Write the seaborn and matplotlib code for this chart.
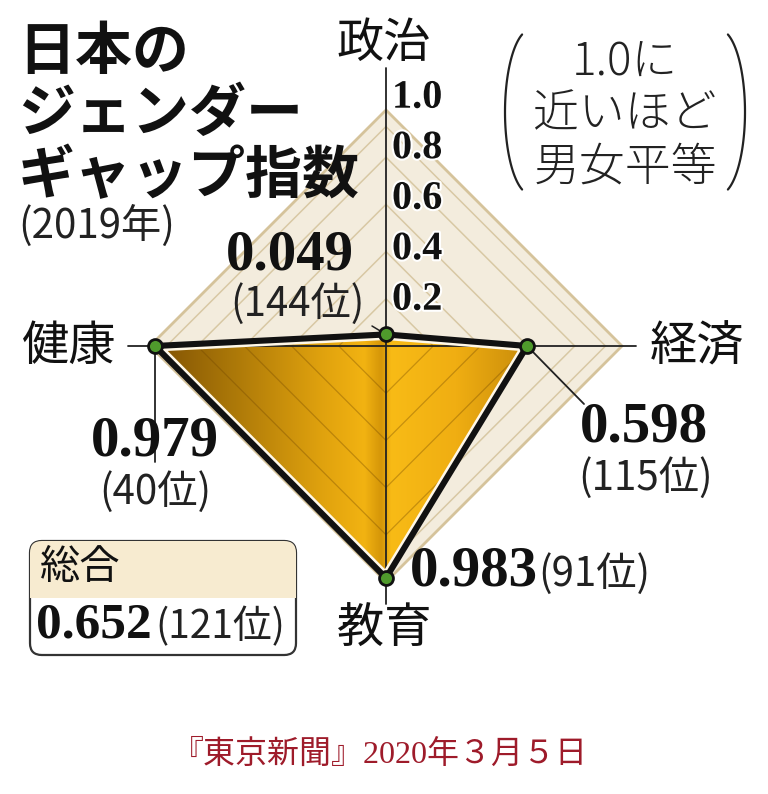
import numpy as np
import pandas as pd
import matplotlib.pyplot as plt
import seaborn as sns
import matplotlib.patheffects as pe
from matplotlib.patches import Polygon, FancyBboxPatch, Rectangle
from matplotlib.colors import LinearSegmentedColormap

# --- data ---
categories = ['政治', '経済', '教育', '健康']
scores = [0.049, 0.598, 0.983, 0.979]
ranks = [144, 115, 91, 40]
angles_deg = [90, 0, 270, 180]
ring_levels = [0.2, 0.4, 0.6, 0.8, 1.0]
ring_labels = ['0.2', '0.4', '0.6', '0.8', '1.0']
overall_label = '総合'
overall_score = 0.652
overall_rank = 121
title_lines = ['日本の', 'ジェンダー', 'ギャップ指数']
year_label = '(2019年)'
note_lines = ['1.0に', '近いほど', '男女平等']
source = '『東京新聞』2020年３月５日'

W, H = 768, 794
CX, CY, R = 386, 346, 236


def px(x, y):
    """pixel position -> radar units"""
    return (x - CX) / R, (CY - y) / R


sns.set_theme(style='white')
JP = ['Noto Sans CJK JP', 'DejaVu Sans']
SERIF = ['Liberation Serif', 'Noto Sans CJK JP']
plt.rcParams['font.family'] = JP

df = pd.DataFrame({'cat': categories, 'score': scores, 'rank': ranks,
                   'angle': np.deg2rad(angles_deg)})
df['x'] = df['score'] * np.cos(df['angle'])
df['y'] = df['score'] * np.sin(df['angle'])
unit = np.column_stack([np.cos(df['angle']), np.sin(df['angle'])])

fig = plt.figure(figsize=(W / 100, H / 100), dpi=100)
ax = fig.add_axes([0, 0, 1, 1])

# background grid diamonds
ax.add_patch(Polygon(unit * 1.0, closed=True, fc='#f3ecdd', ec='#d5c39b', lw=2, zorder=1))
for lv in ring_levels[:-1] + [0.93]:
    ax.add_patch(Polygon(unit * lv, closed=True, fill=False, ec='#d8c8a4', lw=1.1, zorder=1.5))

# gold fill with gradient
pts = df[['x', 'y']].values
shape = Polygon(pts, closed=True, fc='none', ec='none')
ax.add_patch(shape)
gold = LinearSegmentedColormap.from_list('gold', [
    (0.00, '#7e5004'), (0.20, '#a87508'), (0.45, '#e0a20e'), (0.56, '#f2b312'),
    (0.605, '#d49508'), (0.63, '#f8bb16'), (0.80, '#f0ae12'), (1.00, '#c68a0a')])
grad = np.linspace(0, 1, 256).reshape(1, -1)
im = ax.imshow(grad, extent=[-1.0, 0.62, -1.0, 0.1], cmap=gold, aspect='auto',
               interpolation='bicubic', zorder=3)
im.set_clip_path(shape)
for lv in ring_levels:
    ring = Polygon(unit * lv, closed=True, fill=False, ec='#6e4400', lw=0.9, alpha=0.35, zorder=3.5)
    ax.add_patch(ring)
    ring.set_clip_path(shape)

# axis lines
x0, _ = px(128, CY)
x1, _ = px(636, CY)
ax.plot([x0, x1], [0, 0], color='#222222', lw=1.3, zorder=4)
_, ytop = px(CX, 68)
_, ybot = px(CX, 604)
ax.plot([0, 0], [ytop, ybot], color='#222222', lw=1.3, zorder=4)

# white inner edge + black outline
closed = np.vstack([pts, pts[:1]])
inner, = ax.plot(closed[:, 0], closed[:, 1], color='#fff8e8', lw=8, zorder=5,
                 solid_joinstyle='miter')
inner.set_clip_path(shape)
ax.plot(closed[:, 0], closed[:, 1], color='#111111', lw=4.4, zorder=6,
        solid_joinstyle='miter')

# leader lines
hx, hy = df.loc[3, 'x'], df.loc[3, 'y']
ax.plot([hx, hx], [hy, px(0, 462)[1]], color='#222222', lw=1.3, zorder=4)
ex, ey = df.loc[1, 'x'], df.loc[1, 'y']
ax.plot([ex, px(584, 0)[0]], [ey, px(0, 404)[1]], color='#222222', lw=1.3, zorder=4)
ax.plot([df.loc[0, 'x'], px(372, 0)[0]], [df.loc[0, 'y'], px(0, 326)[1]],
        color='#222222', lw=1.1, zorder=4)

sns.scatterplot(data=df, x='x', y='y', s=100, color='#4f9a2c', edgecolor='#111111',
                linewidth=2, zorder=8, ax=ax, legend=False)

# ring tick labels
for lv, lab in zip(ring_levels, ring_labels):
    ax.text(px(392, 0)[0], lv * 1.07 - 0.02, lab, family=SERIF, fontweight='bold',
            fontsize=29, ha='left', va='center', color='#111111', zorder=9,
            path_effects=[pe.withStroke(linewidth=3, foreground='white')])

# category labels
cat_pos = {'政治': (384, 44, 'center'), '経済': (650, 347, 'left'),
           '教育': (384, 630, 'center'), '健康': (116, 347, 'right')}
for c in categories:
    x, y, ha = cat_pos[c]
    ax.text(*px(x, y), c, fontsize=34, ha=ha, va='center', color='#111111', zorder=9)

# value labels
val_pos = {'政治': ((290, 256, 'center'), (297, 304, 'center')),
           '経済': ((580, 427, 'left'), (578, 478, 'left')),
           '健康': ((155, 442, 'center'), (155, 492, 'center'))}
for _, row in df.iterrows():
    if row['cat'] in val_pos:
        (vx, vy, vha), (rx, ry, rha) = val_pos[row['cat']]
        ax.text(*px(vx, vy), f"{row['score']:.3f}", family=SERIF, fontweight='bold',
                fontsize=41, ha=vha, va='center', color='#111111', zorder=9)
        ax.text(*px(rx, ry), f"({row['rank']}位)", fontsize=29, ha=rha, va='center',
                color='#222222', zorder=9)
edu = df[df['cat'] == '教育'].iloc[0]
ax.text(*px(410, 572), f"{edu['score']:.3f}", family=SERIF, fontweight='bold',
        fontsize=41, ha='left', va='center', color='#111111', zorder=9)
ax.text(*px(538, 574), f"({edu['rank']}位)", fontsize=29, ha='left', va='center',
        color='#222222', zorder=9)

# overall box
bx0, by0 = px(30, 655)
bx1, by1 = px(296, 541)
box = FancyBboxPatch((bx0, by0), bx1 - bx0, by1 - by0,
                     boxstyle='round,pad=0,rounding_size=0.05',
                     fc='white', ec='#333333', lw=1.6, zorder=7)
ax.add_patch(box)
top = Rectangle((bx0, px(0, 598)[1]), bx1 - bx0, by1 - px(0, 598)[1],
                fc='#f7ebd0', ec='none', zorder=7.2)
ax.add_patch(top)
top.set_clip_path(box)
ax.text(*px(40, 568), overall_label, fontsize=29, ha='left', va='center',
        color='#111111', zorder=9)
ax.text(*px(36, 625), f"{overall_score:.3f}", family=SERIF, fontweight='bold',
        fontsize=37, ha='left', va='center', color='#111111', zorder=9)
ax.text(*px(155, 627), f"({overall_rank}位)", fontsize=28, ha='left', va='center',
        color='#222222', zorder=9)

# title
for i, line in enumerate(title_lines):
    ax.text(*px(18, 52 + 62 * i), line, fontsize=41, fontweight='bold', ha='left',
            va='center', color='#111111', zorder=9)
ax.text(*px(18, 226), year_label, fontsize=29, ha='left', va='center', color='#222222')

# note in parentheses
for i, line in enumerate(note_lines):
    ax.text(*px(625, 62 + 53 * i), line, fontsize=33, ha='center', va='center',
            color='#222222', fontweight='light')
t = np.linspace(-np.deg2rad(70), np.deg2rad(70), 60)
for cx, sign in [(531, -1), (719, 1)]:
    pxs = cx + sign * 26 * np.cos(t)
    pys = 112 - 82.5 * np.sin(t)
    ax.plot((pxs - CX) / R, (CY - pys) / R, color='#222222', lw=1.6)

# source line
ax.text(*px(380, 755), source, family=SERIF, fontsize=23, ha='center', va='center',
        color='#9e1b2a')

ax.set_xlim(-CX / R, (W - CX) / R)
ax.set_ylim(-(H - CY) / R, CY / R)
ax.set_axis_off()

fig.savefig('out.png', dpi=100, facecolor='white')
